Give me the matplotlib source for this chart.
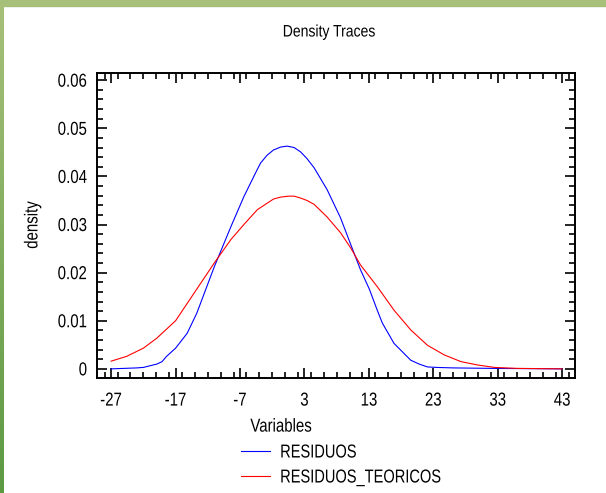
import matplotlib
matplotlib.use("Agg")
import matplotlib.pyplot as plt
import numpy as np
from matplotlib.ticker import MultipleLocator
from matplotlib.patheffects import AbstractPathEffect
from matplotlib.transforms import Affine2D

# --- data ---
x_resid = [-27, -23, -22, -19.9, -19.1, -18.4, -17, -15.2, -13.7, -11, -8.4, -6.4, -4.3,
           -3.8, -2.8, -1.8, -0.7, 0.3, 1.4, 2.4, 3.4, 4.5, 6.5, 8.6, 10.2, 11.7, 13.1,
           14.3, 15.1, 16.9, 19.5, 20.8, 22.1, 23.5, 26, 32, 43]
y_resid = [0.0000, 0.0002, 0.0003, 0.0010, 0.0015, 0.0026, 0.0043, 0.0074, 0.0116,
           0.0212, 0.0296, 0.0358, 0.0415, 0.0428, 0.0444, 0.0455, 0.0461, 0.0463,
           0.0460, 0.0451, 0.0437, 0.0418, 0.0373, 0.0314, 0.0258, 0.0206, 0.0165,
           0.0122, 0.0095, 0.0053, 0.0018, 0.0010, 0.0004, 0.0003, 0.0002, 0.0001, 0.0000]

x_teor = [-27, -24.6, -22, -19.9, -17, -15, -14.1, -11, -8.4, -6.4, -4.3, -1.8, -0.7,
          0.6, 1.4, 2.4, 3.4, 4.5, 6.5, 8.6, 10.2, 11.7, 14.3, 16.9, 19.5, 22.1, 24.7,
          27.3, 29.9, 32.5, 36, 43]
y_teor = [0.0016, 0.0026, 0.0043, 0.0064, 0.0100, 0.0140, 0.0158, 0.0220, 0.0269,
          0.0300, 0.0331, 0.0353, 0.0357, 0.0359, 0.0359, 0.0355, 0.0350, 0.0342,
          0.0316, 0.0283, 0.0251, 0.0216, 0.0171, 0.0122, 0.0081, 0.0049, 0.0029,
          0.0015, 0.0008, 0.0003, 0.0001, 0.0000]

x_ticks = [-27, -17, -7, 3, 13, 23, 33, 43]
y_ticks = [0, 0.01, 0.02, 0.03, 0.04, 0.05, 0.06]
y_ticklabels = ["0", "0.01", "0.02", "0.03", "0.04", "0.05", "0.06"]


class Squeeze(AbstractPathEffect):
    # narrow the glyphs horizontally (the reference uses a condensed face)
    def __init__(self, sx=0.78, anchor=0.5):
        super().__init__()
        self.sx = sx
        self.anchor = anchor

    def draw_path(self, renderer, gc, tpath, affine, rgbFace=None):
        ext = tpath.get_extents()
        cx = ext.x0 + self.anchor * ext.width
        t = Affine2D().translate(-cx, 0).scale(self.sx, 1).translate(cx, 0) + affine
        renderer.draw_path(gc, tpath, t, rgbFace)


plt.rcParams["font.family"] = ["Liberation Sans", "DejaVu Sans"]

fig = plt.figure(figsize=(6.06, 4.93), dpi=100)

# --- green frame (top band + left gradient band) ---
fig.patches.append(plt.Rectangle((0, 1 - 6 / 493), 1, 6 / 493, transform=fig.transFigure,
                                 color="#a6c07a", zorder=0))
band = fig.add_axes([0, 0, 4 / 606, 1 - 6 / 493])
grad = np.linspace(0, 1, 100).reshape(-1, 1)
band.imshow(grad, aspect="auto", cmap=matplotlib.colors.LinearSegmentedColormap.from_list(
    "g", ["#a6c07a", "#5c9a42"]))
band.axis("off")

ax = fig.add_axes([97 / 606, 1 - 378 / 493, (575 - 97) / 606, (378 - 72.5) / 493])

ax.plot(x_resid, y_resid, color="#0000ff", lw=0.8, label="RESIDUOS")
ax.plot(x_teor, y_teor, color="#ff0000", lw=0.8, label="RESIDUOS_TEORICOS")

ax.set_xlim(-29.2, 45)
ax.set_ylim(-0.0019, 0.0616)
ax.set_xticks(x_ticks)
ax.set_xticklabels([str(v) for v in x_ticks])
ax.set_yticks(y_ticks)
ax.set_yticklabels(y_ticklabels)
ax.xaxis.set_minor_locator(MultipleLocator(2))
ax.yaxis.set_minor_locator(MultipleLocator(0.002))

ax.tick_params(which="both", direction="in", top=True, right=True, width=1.2,
               labelsize=13.5)
ax.tick_params(which="major", length=7)
ax.tick_params(which="minor", length=4.5)
ax.tick_params(axis="x", pad=10.5)
ax.tick_params(axis="y", pad=7)
for s in ax.spines.values():
    s.set_linewidth(1.4)

for lab in ax.get_xticklabels():
    lab.set_path_effects([Squeeze(0.8, 0.5)])
for lab in ax.get_yticklabels():
    lab.set_path_effects([Squeeze(0.8, 1.0)])

fig.text(329 / 606, 1 - 32 / 493, "Density Traces", fontsize=12, ha="center", va="center",
         path_effects=[Squeeze(0.84, 0.5)])

ax.set_ylabel("density", fontsize=13.5, va="center", path_effects=[Squeeze(0.8, 0.5)])
ax.yaxis.set_label_coords(-0.134, 0.5)
ax.set_xlabel("Variables", fontsize=13.5, path_effects=[Squeeze(0.8, 0.5)])
ax.xaxis.set_label_coords(0.385, -0.133)

leg = fig.legend(loc="upper left", bbox_to_anchor=(232 / 606, 1 - 435 / 493), frameon=False,
                 fontsize=13.5, handlelength=1.5, handletextpad=0.55, labelspacing=0.42,
                 borderpad=0)
for t in leg.get_texts():
    t.set_path_effects([Squeeze(0.78, 0.0)])

fig.savefig("out.png", dpi=100)
